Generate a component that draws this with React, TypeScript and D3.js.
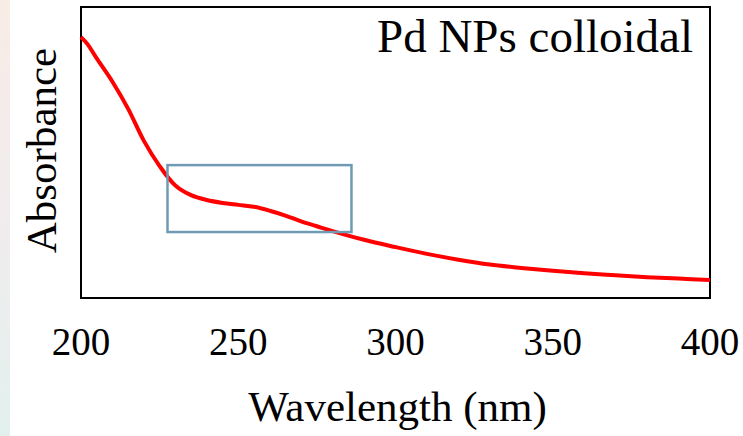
import React from 'react';
import * as d3 from 'd3';

// wavelength (nm) and absorbance (arbitrary units)
const wavelengths = [200, 202, 205, 210, 215, 220, 225, 230, 235, 240, 245, 250, 255, 260, 265, 270, 275, 280, 290, 300, 310, 320, 330, 340, 350, 360, 370, 380, 390, 400];
const absorbance = [2.69, 2.62, 2.47, 2.23, 1.95, 1.62, 1.36, 1.16, 1.06, 1.01, 0.98, 0.96, 0.94, 0.9, 0.85, 0.79, 0.74, 0.69, 0.6, 0.525, 0.455, 0.395, 0.345, 0.31, 0.28, 0.255, 0.235, 0.215, 0.2, 0.185];
const xTicks = [200, 250, 300, 350, 400];

// highlighted shoulder region
const boxX = [227.5, 286];
const boxY = [0.68, 1.37];

const W = 743;
const H = 436;
const margin = { top: 7, right: 33, bottom: 138, left: 81 };

export default function App() {
  const iw = W - margin.left - margin.right;
  const ih = H - margin.top - margin.bottom;

  const x = d3.scaleLinear().domain([200, 400]).range([0, iw]);
  const y = d3.scaleLinear().domain([0, 3]).range([ih, 0]);

  const pts = wavelengths.map((w, i) => [w, absorbance[i]] as [number, number]);
  const line = d3.line<[number, number]>()
    .x(d => x(d[0]))
    .y(d => y(d[1]))
    .curve(d3.curveCatmullRom.alpha(0.5));

  const font = { fontFamily: "'Liberation Serif', 'DejaVu Serif', serif" };

  return (
    <svg width={W} height={H} style={{ position: 'absolute', left: 0, top: 0, background: '#fff' }}>
      <defs>
        <linearGradient id="strip" x1="0" y1="0" x2="0" y2="1">
          <stop offset="0" stopColor="#f8ece6" />
          <stop offset="0.5" stopColor="#f1ecee" />
          <stop offset="1" stopColor="#e2f0ed" />
        </linearGradient>
      </defs>
      <rect x={0} y={0} width={10} height={H} fill="url(#strip)" />
      <g transform={`translate(${margin.left},${margin.top})`}>
        <rect x={0} y={0} width={iw} height={ih} fill="#fff" stroke="#000" strokeWidth={2} />
        <path d={line(pts) ?? ''} fill="none" stroke="#ff0000" strokeWidth={4} strokeLinejoin="round" />
        <rect
          x={x(boxX[0])}
          y={y(boxY[1])}
          width={x(boxX[1]) - x(boxX[0])}
          height={y(boxY[0]) - y(boxY[1])}
          fill="none"
          stroke="#6f9ab3"
          strokeWidth={2.5}
        />
        {xTicks.map(t => (
          <text key={t} x={x(t)} y={ih + 57} textAnchor="middle" style={font} fontSize={39} fill="#000">
            {t}
          </text>
        ))}
        <text x={iw - 17} y={45} textAnchor="end" style={font} fontSize={47} fill="#000">
          Pd NPs colloidal
        </text>
        <text x={iw / 2 + 2} y={ih + 123} textAnchor="middle" style={font} fontSize={43} fill="#000">
          Wavelength (nm)
        </text>
        <text
          transform={`translate(${-25},${ih / 2 - 2}) rotate(-90)`}
          textAnchor="middle"
          style={font}
          fontSize={43}
          fill="#000"
        >
          Absorbance
        </text>
      </g>
    </svg>
  );
}
